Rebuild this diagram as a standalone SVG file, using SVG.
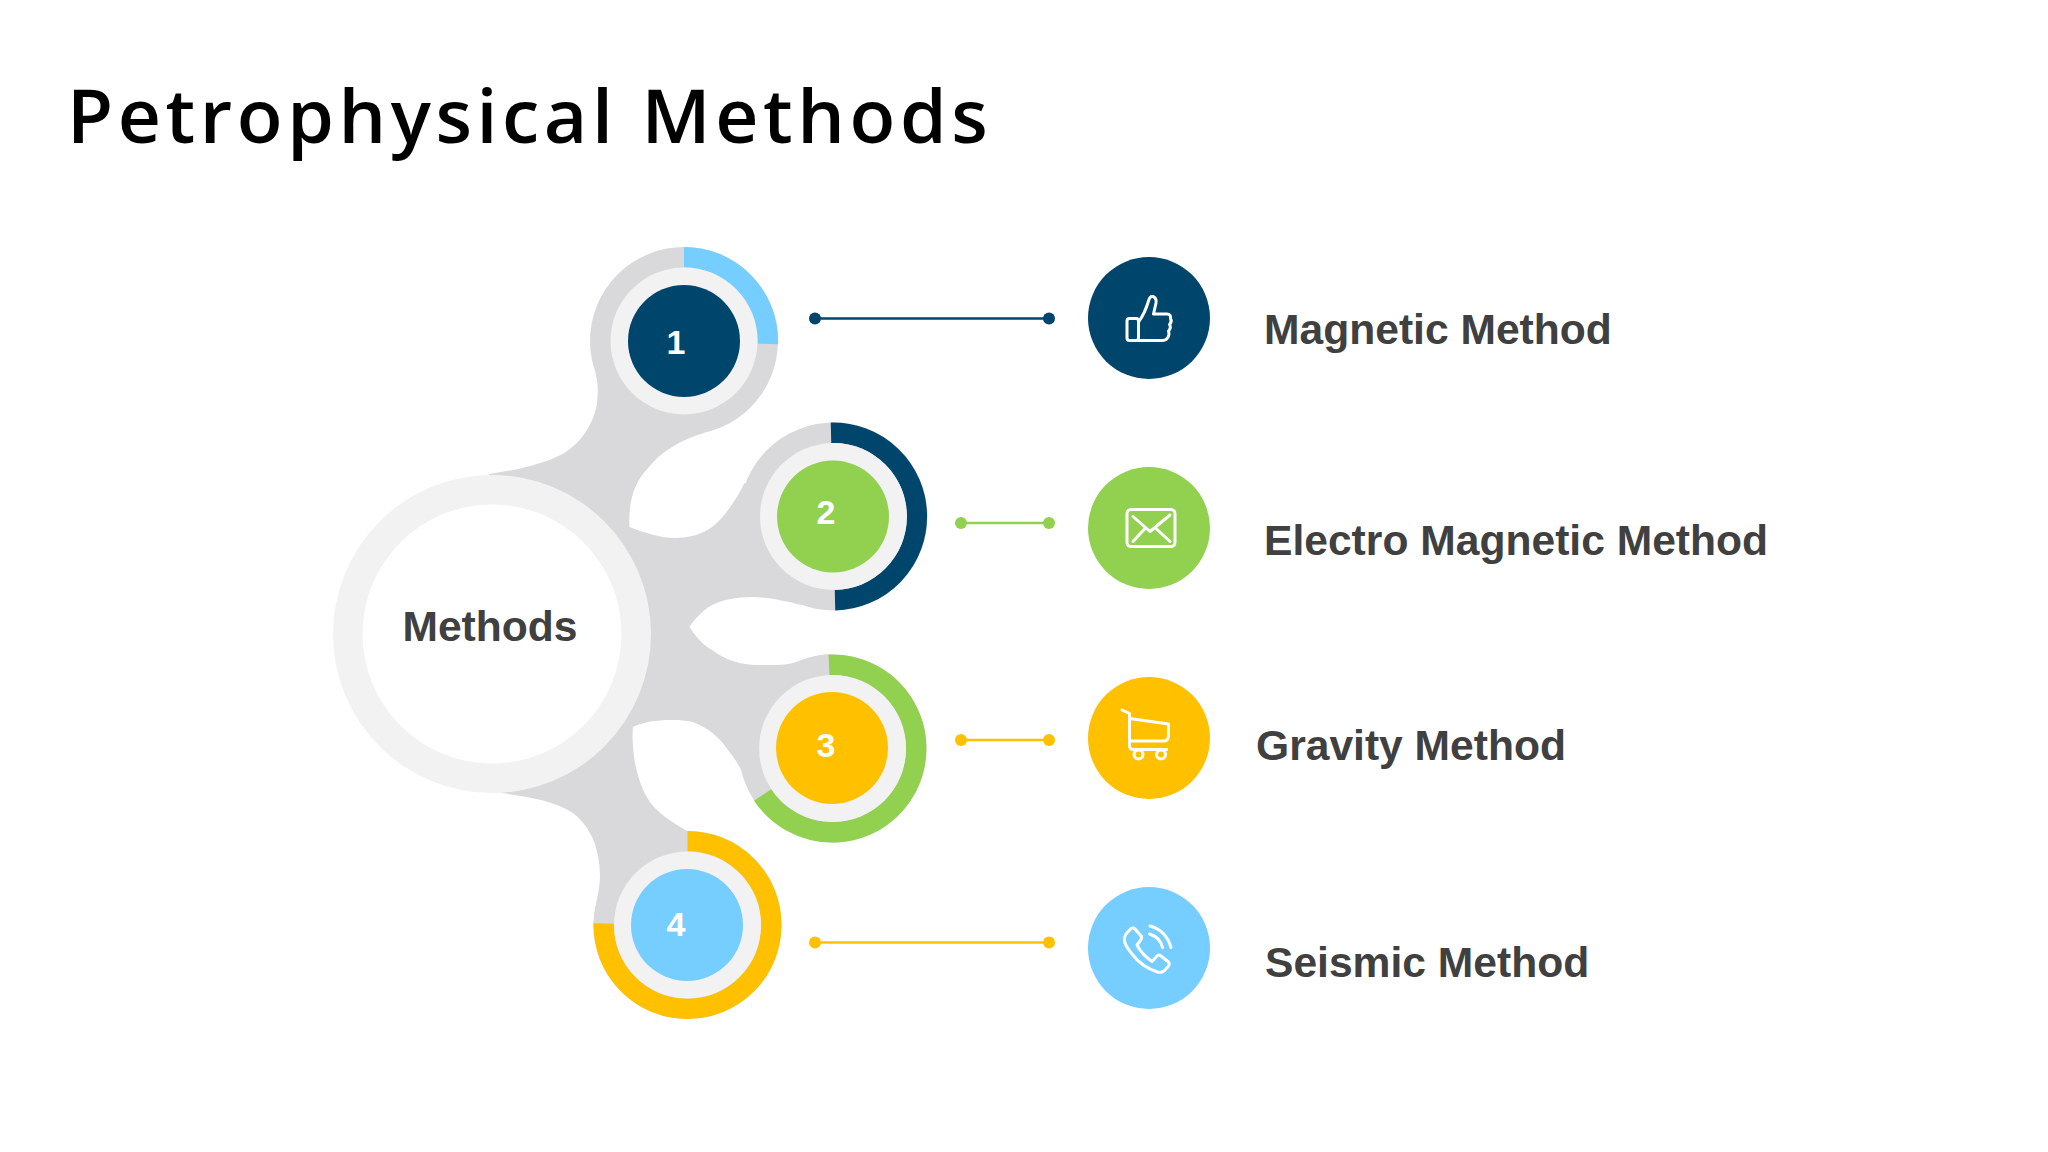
<svg xmlns="http://www.w3.org/2000/svg" width="2048" height="1152" viewBox="0 0 2048 1152">
<style>
.t{font-family:"Liberation Sans",Arial,sans-serif;font-weight:700;fill:#404040;font-size:42.6px}
.n{font-family:"Liberation Sans",Arial,sans-serif;font-weight:700;fill:#fff;font-size:34px;text-anchor:middle}
.a{fill:none;stroke-width:20.5}
.halo{fill:#f2f2f2}
.gray{fill:#d9d9db}
.i{fill:none;stroke:#fff;stroke-width:3;stroke-linecap:round;stroke-linejoin:round}
.c{stroke-width:2.5;fill:none}
</style>
<rect width="2048" height="1152" fill="#fff"/>
<text x="67" y="143" font-family="'Open Sans','Noto Sans',sans-serif" font-size="75" font-weight="600" letter-spacing="4.6" fill="#000">Petrophysical Methods</text>

<g id="body">
<path class="gray" d="M489 474 C510 471 532 467 552 459 C567 453 578 444 587 430 C593 420 597 410 597.5 397 C598 390 598 383 595.5 373 L684 341 L704 433 C680 440 660 452 646.5 470 C636 480 628 500 629.4 527 C645 533 660 538 675 538 C690 538 702 534 712 527 C724 518 736 500 744.5 483 L833 516 L801.6 605 C782 600 765 597 752.6 597 C735 597 722 600 712 605 C702 611 695 619 689.4 626.7 C696 637 703 645 712 650 C725 660 742 665 756.7 665 C772 665 785 666 797.5 661.7 C808 658 818 655 829 654 L832 748 L754.7 800 C750 790 746 782 742.5 773 C738 763 734 758 728 750 C720 738 710 730 699.6 725 C690 720 680 720 671 720 C655 720 645 722 633 726.7 C632 737 633 747 634 756.7 C636 770 640 785 646.5 796.7 C655 812 672 822 687 831 L687 925 L593.5 923 C595 908 598 897 599.6 883 C601 868 598 852 593.5 840 C588 828 582 820 573 813 C555 801 530 797 501.6 793 L492 634 Z"/>
<circle class="gray" cx="684" cy="341" r="94"/>
<circle class="gray" cx="833.5" cy="516.5" r="94"/>
<circle class="gray" cx="832.6" cy="748.5" r="94"/>
<circle class="gray" cx="687.5" cy="925" r="94"/>
</g>

<g id="center">
<circle cx="492" cy="634" r="159" class="halo"/>
<circle cx="492" cy="634" r="129.5" fill="#fff"/>
<text x="490" y="641" class="t" text-anchor="middle">Methods</text>
</g>

<g id="step1">
<path class="a" stroke="#75ceff" d="M684 257.2 A83.8 83.8 0 0 1 767.8 344"/>
<circle cx="684" cy="341" r="73.5" class="halo"/>
<circle cx="684" cy="341" r="56" fill="#00456b"/>
<text x="676" y="354" class="n">1</text>
</g>
<g id="step2">
<path class="a" stroke="#00456b" d="M831 432.7 A83.8 83.8 0 0 1 835 600.3"/>
<circle cx="833.5" cy="516.5" r="73.5" class="halo"/>
<circle cx="833" cy="516.5" r="56" fill="#92d050"/>
<text x="826" y="524" class="n">2</text>
</g>
<g id="step3">
<path class="a" stroke="#92d050" d="M829 664.8 A83.8 83.8 0 1 1 762.6 795"/>
<circle cx="832.6" cy="748.5" r="73.5" class="halo"/>
<circle cx="832" cy="748" r="56" fill="#ffc000"/>
<text x="826" y="757" class="n">3</text>
</g>
<g id="step4">
<path class="a" stroke="#ffc000" d="M687.5 841.2 A83.8 83.8 0 1 1 603.7 923.5"/>
<circle cx="687.5" cy="925" r="73.5" class="halo"/>
<circle cx="687" cy="925" r="56" fill="#75ceff"/>
<text x="676" y="936" class="n">4</text>
</g>

<g id="connectors">
<path class="c" stroke="#00456b" d="M815 318.5H1049"/><circle cx="815" cy="318.5" r="6" fill="#00456b"/><circle cx="1049" cy="318.5" r="6" fill="#00456b"/>
<path class="c" stroke="#92d050" d="M961 523H1049"/><circle cx="961" cy="523" r="6" fill="#92d050"/><circle cx="1049" cy="523" r="6" fill="#92d050"/>
<path class="c" stroke="#ffc000" d="M961 740H1049"/><circle cx="961" cy="740" r="6" fill="#ffc000"/><circle cx="1049" cy="740" r="6" fill="#ffc000"/>
<path class="c" stroke="#ffc000" d="M815 942.5H1049"/><circle cx="815" cy="942.5" r="6" fill="#ffc000"/><circle cx="1049" cy="942.5" r="6" fill="#ffc000"/>
</g>

<g id="magnetic">
<circle cx="1149" cy="318" r="61" fill="#00456b"/>
<rect class="i" x="1127" y="318.5" width="11.5" height="22" rx="2.5"/>
<path class="i" d="M1138.5 322 C1143 316 1147 306 1148.5 301 C1149.5 297 1151 296 1153 296.5 C1156 297.5 1156.5 300 1156 303 L1153.5 314 L1167 314 C1170 314 1171 316 1170.5 318.5 C1172 321 1171 323 1169.5 324.5 C1171 327 1170 329.5 1168.5 331 C1169.5 334 1168.5 337 1167 338.5 C1166 340 1164.5 340.5 1162 340.5 L1138.5 340.5"/>
<text x="1264" y="344" class="t">Magnetic Method</text>
</g>
<g id="electro">
<circle cx="1149" cy="528" r="61" fill="#92d050"/>
<rect class="i" x="1127" y="509.5" width="48" height="37" rx="4"/>
<path class="i" d="M1133 516.5 L1150 531.5 L1170 515 M1133 541.5 L1145 528.5 M1170 541.5 L1156 528.5"/>
<text x="1264" y="555" class="t">Electro Magnetic Method</text>
</g>
<g id="gravity">
<circle cx="1149" cy="738" r="61" fill="#ffc000"/>
<path class="i" d="M1122 710 L1129.5 713.5 L1129.5 745 Q1129.5 749.5 1133 749.5 L1166.5 749.5 M1129.5 718.5 L1168.5 724 L1168.5 736 Q1168 741 1164 741 L1130 741"/>
<circle class="i" cx="1138.5" cy="754.5" r="4.5"/>
<circle class="i" cx="1161" cy="754.5" r="4.5"/>
<text x="1256" y="760" class="t">Gravity Method</text>
</g>
<g id="seismic">
<circle cx="1149" cy="948" r="61" fill="#75ceff"/>
<path class="i" stroke-width="2.5" d="M1126 934 L1131 928.5 Q1133 927.5 1135 929 L1141.5 936.5 Q1142 938 1141 939.5 L1137 945 C1141 953 1147 958 1152 961.5 L1157.5 955.5 Q1159 954.5 1161 956 L1168.5 962 Q1170 964 1168.5 966 L1164 971 Q1161 973 1157.5 972 C1148 969 1138 962 1132 954 C1128 949 1125 945 1124.5 941 Q1124 937 1126 934 Z"/>
<path class="i" stroke-width="2.5" d="M1149.5 934 C1156 936 1161 941 1162.5 947.5 M1150 926 C1161 929 1168 937 1171 947.5"/>
<text x="1265" y="977" class="t">Seismic Method</text>
</g>
</svg>
